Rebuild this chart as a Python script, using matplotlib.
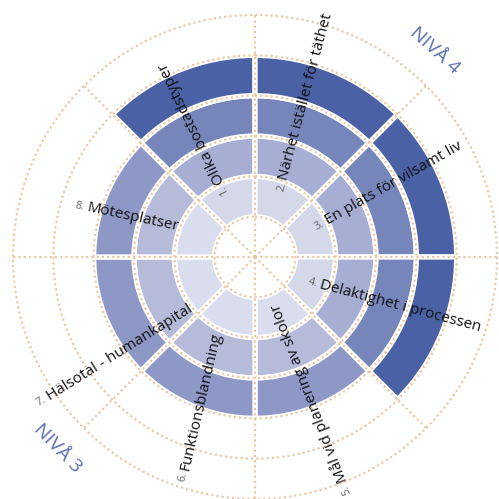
import numpy as np
import matplotlib
matplotlib.use("Agg")
import matplotlib.pyplot as plt

plt.rcParams['font.family'] = ['Open Sans', 'DejaVu Sans']

# eight sectors, clockwise starting with the one just left of 12 o'clock
numbers = ["1.", "2.", "3.", "4.", "5.", "6.", "7.", "8."]
labels = ["Olika bostadstyper", "Närhet istället för täthet", "En plats för vilsamt liv",
          "Delaktighet i processen", "Mål vid planering av skolor", "Funktionsblandning",
          "Hälsotal - humankapital", "Mötesplatser"]
levels = [4, 4, 4, 4, 3, 3, 3, 3]  # reached level per sector

colors_n4 = ["#d4d8e8", "#a6afd3", "#7686bb", "#4a61a5"]
colors_n3 = ["#dadded", "#b7bbda", "#8e98c6"]

# label placement: (compass deg, radius, rotation)
label_pos = [(335.3, 2.02, 116), (20.6, 2.04, 75), (63.8, 1.97, 29.5), (113.3, 1.76, -15),
             (158.6, 6.0, 111), (198.2, 5.56, 77), (235.9, 6.2, 32), (286.3, 4.34, -12)]

DOT = '#eec39a'
dotted = dict(color=DOT, lw=1.5, ls=(0, (1, 1.5)), clip_on=False, zorder=5)

fig = plt.figure(figsize=(4.99, 4.99), dpi=100)
ax = fig.add_axes([13 / 499, 0, 484 / 499, 484 / 499], projection='polar')
ax.set_theta_zero_location('N')
ax.set_theta_direction(-1)
ax.set_ylim(0, 6)
ax.axis('off')

w = np.pi / 4
for i, lv in enumerate(levels):
    th = i * w - w / 2
    cols = colors_n4 if lv == 4 else colors_n3
    for k in range(lv):
        ax.bar(th, 1, width=w, bottom=k + 1, color=cols[k],
               edgecolor='white', linewidth=3.8, zorder=2)

# dotted grid
t = np.linspace(0, 2 * np.pi, 500)
for r in range(1, 7):
    ax.plot(t, np.full_like(t, r), **dotted)
for i in range(8):
    ax.plot([i * w, i * w], [0, 6], **dotted)

for num, lab, (ang, r, rot) in zip(numbers, labels, label_pos):
    th = np.radians(ang)
    ax.text(th, r, lab, fontsize=11, color='#111111', ha='left', va='center',
            rotation=rot, rotation_mode='anchor', zorder=10)
    off = (-2 * np.cos(np.radians(rot)), -2 * np.sin(np.radians(rot)))
    ax.annotate(num, xy=(th, r), xytext=off, textcoords='offset points',
                fontsize=8, color='#666666', ha='right', va='center',
                rotation=rot, rotation_mode='anchor', zorder=10,
                annotation_clip=False)

ax.text(np.radians(41), 6.8, "NIVÅ 4", fontsize=14, color='#5b6fb3',
        ha='center', va='center', rotation=-42, rotation_mode='anchor')
ax.text(np.radians(226), 6.82, "NIVÅ 3", fontsize=14, color='#5b6fb3',
        ha='center', va='center', rotation=-46, rotation_mode='anchor')

fig.savefig("out.png", dpi=100)
